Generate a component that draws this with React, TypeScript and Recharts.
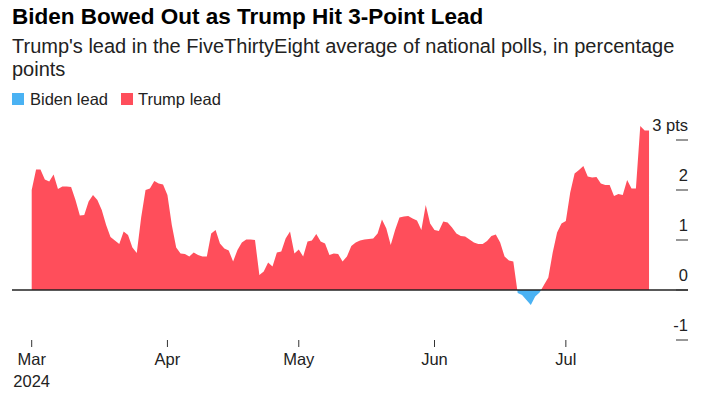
import React from 'react';
import { AreaChart, Area, XAxis, YAxis, ReferenceLine } from 'recharts';

// Trump's lead (pts), one value per day from Mar 1 2024
const leadPts = [
  2.0, 2.41, 2.41, 2.21, 2.17, 2.31, 2.02, 2.07, 2.07, 2.06,
  1.8, 1.49, 1.5, 1.77, 1.9, 1.8, 1.6, 1.3, 1.06, 0.99,
  0.92, 1.17, 1.1, 0.85, 0.74, 1.45, 2.0, 2.03, 2.18, 2.13,
  2.11, 1.9, 1.3, 0.85, 0.73, 0.72, 0.67, 0.75, 0.7, 0.67,
  0.67, 1.13, 1.2, 0.93, 0.83, 0.79, 0.57, 0.8, 0.95, 1.01,
  1.01, 1.0, 0.3, 0.37, 0.55, 0.47, 0.75, 0.77, 1.03, 1.17,
  0.73, 0.81, 0.67, 0.97, 0.99, 1.12, 0.97, 0.93, 0.7, 0.73,
  0.72, 0.57, 0.67, 0.88, 0.95, 0.99, 1.01, 1.02, 1.03, 1.13,
  1.41, 1.23, 0.9, 1.2, 1.45, 1.47, 1.48, 1.43, 1.39, 1.2,
  1.7, 1.33, 1.2, 1.18, 1.37, 1.35, 1.25, 1.13, 1.08, 1.07,
  1.01, 0.95, 0.92, 0.92, 0.98, 1.08, 1.11, 0.95, 0.67, 0.59,
  0.57, -0.06, -0.1, -0.2, -0.3, -0.13, -0.05, 0.1, 0.25, 0.75,
  1.15, 1.33, 1.38, 1.95, 2.33, 2.4, 2.48, 2.27, 2.25, 2.26,
  2.13, 2.1, 2.1, 1.88, 1.92, 1.9, 2.2, 2.03, 2.03, 3.28,
  3.19, 3.19,
];

const monthTicks = [0, 31, 61, 92, 122];
const monthLabels = ['Mar', 'Apr', 'May', 'Jun', 'Jul'];
const yearLabel = '2024';
const yTicks = [-1, 0, 1, 2, 3];
const legendNames = ['Biden lead', 'Trump lead'];

const RED = '#ff4e5b';
const BLUE = '#4ab2f3';
const FONT = '"Liberation Sans", Arial, Helvetica, sans-serif';

const data = leadPts.map((lead, day) => ({ day, lead }));
const maxV = Math.max(...leadPts);
const minV = Math.min(...leadPts);
const splitOffset = maxV / (maxV - minV);

const XTick = (props: any) => {
  const { x, y, payload } = props;
  const i = monthTicks.indexOf(payload.value);
  return (
    <g fontFamily={FONT} fontSize={16.5} fill="#222">
      <text x={x} y={y + 16} textAnchor="middle">{monthLabels[i]}</text>
      {i === 0 && (
        <text x={x} y={y + 38} textAnchor="middle">{yearLabel}</text>
      )}
    </g>
  );
};

const YTick = (props: any) => {
  const { x, y, payload } = props;
  const label = payload.value === 3 ? '3 pts' : String(payload.value);
  return (
    <g>
      <line x1={x - 12} x2={x} y1={y} y2={y} stroke="#333" strokeWidth={1} />
      <text x={x} y={y - 9} textAnchor="end" fontFamily={FONT} fontSize={16.5} fill="#222">
        {label}
      </text>
    </g>
  );
};

export default function App() {
  return (
    <div style={{ position: 'absolute', left: 0, top: 0, width: 705, height: 393, background: '#fff', fontFamily: FONT }}>
      <div style={{ position: 'absolute', left: 12, top: 4, fontSize: 22.5, fontWeight: 700, color: '#000', whiteSpace: 'nowrap' }}>
        Biden Bowed Out as Trump Hit 3-Point Lead
      </div>
      <div style={{ position: 'absolute', left: 12, top: 35, width: 680, fontSize: 20, lineHeight: '23px', color: '#222' }}>
        Trump's lead in the FiveThirtyEight average of national polls, in percentage points
      </div>
      <div style={{ position: 'absolute', left: 12, top: 89, display: 'flex', alignItems: 'center', fontSize: 16.5, lineHeight: '20px', color: '#222' }}>
        <span style={{ width: 12, height: 12, background: BLUE, marginRight: 6 }} />
        <span style={{ marginRight: 13 }}>{legendNames[0]}</span>
        <span style={{ width: 12, height: 12, background: RED, marginRight: 5 }} />
        <span>{legendNames[1]}</span>
      </div>
      <div style={{ position: 'absolute', left: 0, top: 0 }}>
        <AreaChart width={705} height={393} data={data} margin={{ top: 120, right: 7, bottom: 23, left: 12 }}>
          <defs>
            <linearGradient id="leadSplit" x1="0" y1="0" x2="0" y2="1">
              <stop offset={splitOffset} stopColor={RED} />
              <stop offset={splitOffset} stopColor={BLUE} />
            </linearGradient>
          </defs>
          <XAxis
            dataKey="day"
            type="number"
            domain={[-4.5, 149.9]}
            allowDataOverflow
            ticks={monthTicks}
            axisLine={false}
            tickLine={{ stroke: '#333' }}
            tickSize={7}
            tickMargin={2}
            height={30}
            tick={<XTick />}
          />
          <YAxis
            orientation="right"
            type="number"
            domain={[-1, 3.4]}
            allowDataOverflow
            ticks={yTicks}
            axisLine={false}
            tickLine={false}
            tickSize={0}
            tickMargin={0}
            width={10}
            tick={<YTick />}
          />
          <Area
            type="linear"
            dataKey="lead"
            stroke="none"
            fill="url(#leadSplit)"
            fillOpacity={1}
            baseValue={0}
            isAnimationActive={false}
          />
          <ReferenceLine y={0} stroke="#222" strokeWidth={1.5} />
        </AreaChart>
      </div>
    </div>
  );
}
